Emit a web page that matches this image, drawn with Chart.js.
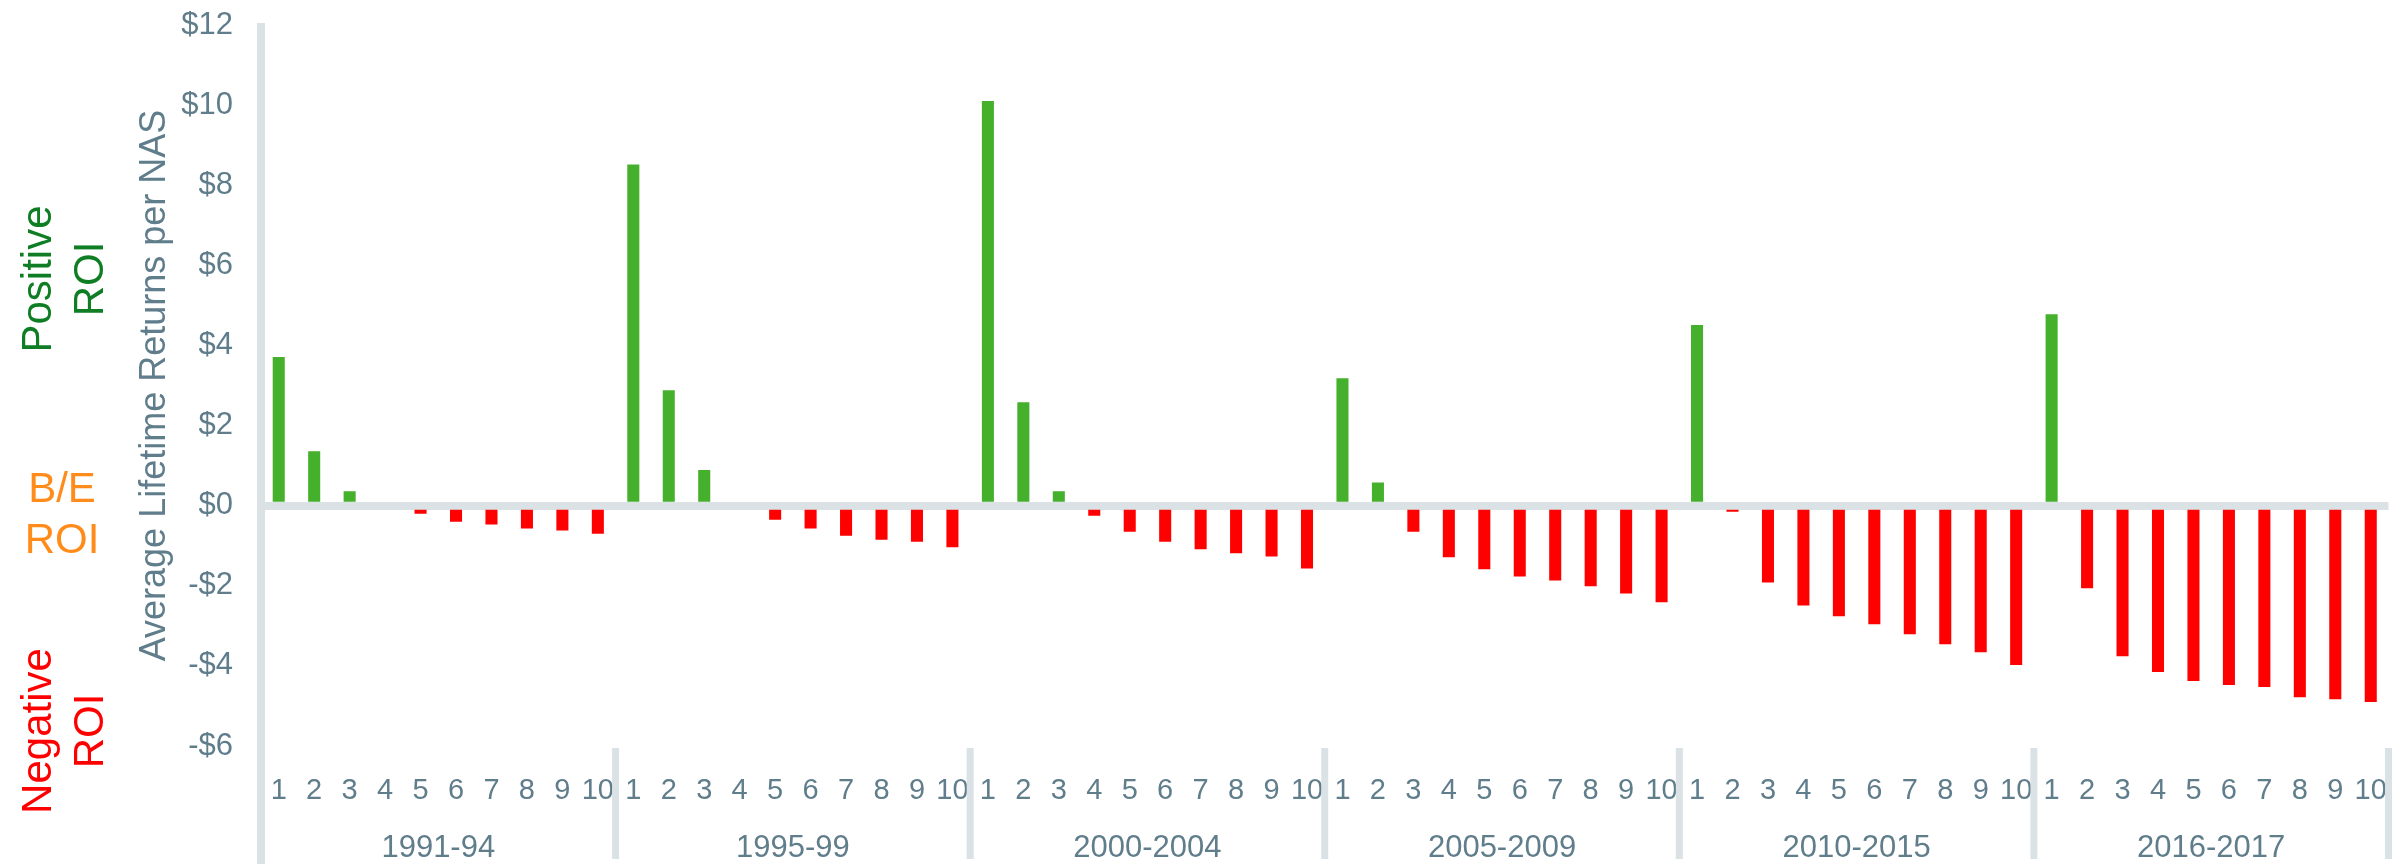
<!DOCTYPE html>
<html>
<head>
<meta charset="utf-8">
<script src="https://cdn.jsdelivr.net/npm/chart.js"></script>
<style>
  html, body { margin: 0; padding: 0; background: #fff; }
  #wrap { width: 2407px; height: 864px; position: relative; }
</style>
</head>
<body>
<div id="wrap"><canvas id="myChart"></canvas></div>
<script>
// periods and decile labels
const periods = ['1991-94', '1995-99', '2000-2004', '2005-2009', '2010-2015', '2016-2017'];
const deciles = ['1', '2', '3', '4', '5', '6', '7', '8', '9', '10'];

// average lifetime returns per NAS, by decile
const roi1991 = [3.71, 1.36, 0.36, 0, -0.2, -0.4, -0.47, -0.57, -0.62, -0.7];
const roi1995 = [8.52, 2.88, 0.89, 0, -0.35, -0.57, -0.75, -0.85, -0.9, -1.04];
const roi2000 = [10.1, 2.58, 0.36, -0.25, -0.65, -0.9, -1.09, -1.19, -1.27, -1.57];
const roi2005 = [3.18, 0.58, -0.65, -1.29, -1.59, -1.77, -1.87, -2.01, -2.19, -2.41];
const roi2010 = [4.51, -0.15, -1.92, -2.49, -2.76, -2.96, -3.21, -3.46, -3.66, -3.98];
const roi2016 = [4.78, -2.06, -3.76, -4.15, -4.38, -4.48, -4.53, -4.78, -4.83, -4.9];

const yTicks = [-6, -4, -2, 0, 2, 4, 6, 8, 10, 12];

const FONT = "'Liberation Sans', Arial, sans-serif";
const SLATE = '#607d8b';
const LINE = '#dae2e5';
const GREEN = '#45b02b';
const RED = '#ff0000';

const values = [].concat(roi1991, roi1995, roi2000, roi2005, roi2010, roi2016);
const labels = [];
periods.forEach(() => deciles.forEach(d => labels.push(d)));

// grey lines (long y axis + period separators) and the ROI labels on the left
const decor = {
    id: 'decor',
    afterDraw(chart) {
        const ctx = chart.ctx;
        const x = chart.scales.x;
        const y = chart.scales.y;
        const H = chart.height;
        ctx.save();
        ctx.fillStyle = LINE;
        const top = y.getPixelForValue(12) - 2;
        const sepTop = y.getPixelForValue(-6) + 2;
        const step = x.width / periods.length;
        for (let g = 0; g <= periods.length; g++) {
            const px = x.left + g * step;
            if (g === 0) ctx.fillRect(px - 4, top, 8, H - top);
            else ctx.fillRect(px - 3.5, sepTop, 7, H - 5 - sepTop);
        }

        ctx.font = '42px ' + FONT;
        ctx.textAlign = 'center';
        ctx.textBaseline = 'alphabetic';
        const rotated = (lines, color, cy) => {
            ctx.fillStyle = color;
            ctx.save();
            ctx.translate(51, cy);
            ctx.rotate(-Math.PI / 2);
            ctx.fillText(lines[0], 0, 0);
            ctx.fillText(lines[1], 0, 52);
            ctx.restore();
        };
        rotated(['Positive', 'ROI'], '#0e7d24', 279);
        rotated(['Negative', 'ROI'], RED, 731);

        ctx.fillStyle = '#ff8c1a';
        ctx.fillText('B/E', 62, 502);
        ctx.fillText('ROI', 62, 553);
        ctx.restore();
    }
};

const ctx = document.getElementById('myChart').getContext('2d');
new Chart(ctx, {
    type: 'bar',
    data: {
        labels: labels,
        datasets: [{
            data: values,
            backgroundColor: values.map(v => v >= 0 ? GREEN : RED),
            borderWidth: 0,
            barPercentage: 0.34,
            categoryPercentage: 1.0
        }]
    },
    options: {
        responsive: true,
        maintainAspectRatio: false,
        animation: false,
        layout: { padding: { top: 25, right: 15, left: 0, bottom: 0 } },
        plugins: {
            legend: { display: false },
            tooltip: { enabled: false }
        },
        scales: {
            x: {
                position: 'bottom',
                offset: true,
                grid: { display: false },
                border: { display: false },
                ticks: {
                    autoSkip: false,
                    maxRotation: 0,
                    minRotation: 0,
                    padding: 20,
                    color: SLATE,
                    font: { family: FONT, size: 29 }
                },
                afterFit(scale) { scale.height = 55; }
            },
            x2: {
                type: 'category',
                labels: periods,
                position: 'bottom',
                offset: true,
                grid: { display: false },
                border: { display: false },
                ticks: {
                    autoSkip: false,
                    maxRotation: 0,
                    minRotation: 0,
                    padding: 21,
                    color: SLATE,
                    font: { family: FONT, size: 31 }
                },
                afterFit(scale) { scale.height = 63; }
            },
            y: {
                min: -6,
                max: 12,
                z: 1,
                afterBuildTicks(scale) {
                    scale.ticks = yTicks.map(v => ({ value: v }));
                },
                afterFit(scale) {
                    scale.width = 261;
                    // tick padding should not push the plot area down
                    scale.paddingTop = 0;
                    scale.paddingBottom = 0;
                },
                grid: {
                    drawTicks: false,
                    lineWidth: 8,
                    color: c => (c.tick && c.tick.value === 0) ? LINE : 'rgba(0,0,0,0)'
                },
                border: { display: false },
                ticks: {
                    padding: 28,
                    color: SLATE,
                    font: { family: FONT, size: 31 },
                    callback: v => (v < 0 ? '-$' : '$') + Math.abs(v)
                },
                title: {
                    display: true,
                    text: 'Average Lifetime Returns per NAS',
                    color: SLATE,
                    font: { family: FONT, size: 36 },
                    padding: { top: 133, bottom: 0 }
                }
            }
        }
    },
    plugins: [decor]
});
</script>
</body>
</html>
